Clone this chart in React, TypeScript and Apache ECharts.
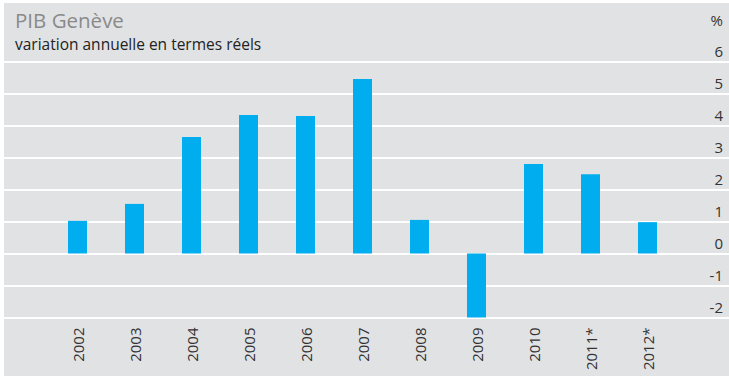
import React, { useEffect, useRef } from "react";
import * as echarts from "echarts";

const categories = ["2002", "2003", "2004", "2005", "2006", "2007", "2008", "2009", "2010", "2011*", "2012*"];
const values = [1.02, 1.55, 3.64, 4.33, 4.3, 5.45, 1.05, -2.0, 2.8, 2.48, 0.98];
const yMin = -2;
const yMax = 6;
const yInterval = 1;
const titleText = "PIB Genève";
const subtitleText = "variation annuelle en termes réels";
const unitText = "%";

const FONT = "'Open Sans', 'Noto Sans', sans-serif";

export default function App() {
  const ref = useRef<HTMLDivElement>(null);
  useEffect(() => {
    document.body.style.margin = "0";
    if (!ref.current) return;
    const chart = echarts.init(ref.current, undefined, { renderer: "svg" });
    chart.setOption({
      animation: false,
      backgroundColor: "#ffffff",
      textStyle: { fontFamily: FONT },
      graphic: [
        {
          type: "rect",
          z: -10,
          silent: true,
          shape: { x: 4, y: 3, width: 725, height: 373 },
          style: { fill: "#e1e2e4" },
        },
        {
          type: "text",
          left: 15,
          top: 9,
          style: { text: titleText, fill: "#8a8a8a", font: `20.5px ${FONT}` },
        },
        {
          type: "text",
          left: 15,
          top: 36,
          style: { text: subtitleText, fill: "#222222", font: `15.5px ${FONT}` },
        },
        {
          type: "text",
          right: 6,
          top: 12,
          style: { text: unitText, fill: "#333333", font: `15px ${FONT}` },
        },
      ],
      grid: [
        { left: 4, right: 0, top: 61.5, height: 256, containLabel: false },
        { left: 49, width: 627, top: 61.5, height: 256, containLabel: false },
      ],
      xAxis: [
        { type: "value", gridIndex: 0, show: false, min: 0, max: 1 },
        {
          type: "category",
          gridIndex: 1,
          data: categories,
          axisLine: { show: false },
          axisTick: { show: false },
          axisLabel: {
            rotate: 90,
            margin: 10,
            color: "#333333",
            fontSize: 15,
            fontFamily: FONT,
          },
        },
      ],
      yAxis: [
        {
          type: "value",
          gridIndex: 0,
          position: "right",
          min: yMin,
          max: yMax,
          interval: yInterval,
          axisLine: { show: false },
          axisTick: { show: false },
          splitLine: { show: true, lineStyle: { color: "#ffffff", width: 2 } },
          axisLabel: {
            inside: true,
            margin: 6,
            color: "#333333",
            fontSize: 15,
            fontFamily: FONT,
            verticalAlign: "bottom",
            lineHeight: 15,
            padding: [0, 0, 3, 0],
          },
        },
        {
          type: "value",
          gridIndex: 1,
          min: yMin,
          max: yMax,
          interval: yInterval,
          show: false,
          splitLine: { show: false },
        },
      ],
      series: [
        {
          type: "bar",
          xAxisIndex: 1,
          yAxisIndex: 1,
          data: values,
          barWidth: 19,
          itemStyle: { color: "#00aeef" },
        },
      ],
    });
    return () => chart.dispose();
  }, []);
  return <div ref={ref} style={{ width: 729, height: 376 }} />;
}
